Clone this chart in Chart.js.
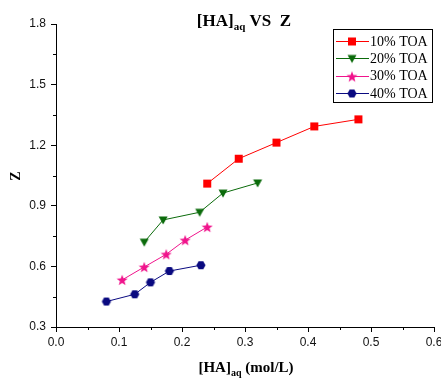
<!DOCTYPE html>
<html>
<head>
<meta charset="utf-8">
<script src="https://cdn.jsdelivr.net/npm/chart.js@4"></script>
<style>
  html, body { margin: 0; padding: 0; background: #fff; }
  #wrap { width: 441px; height: 378px; }
</style>
</head>
<body>
<div id="wrap"><canvas id="chart" width="441" height="378"></canvas></div>
<script>
// data
var seriesNames = ['10% TOA', '20% TOA', '30% TOA', '40% TOA'];
var haq10 = [0.24, 0.29, 0.35, 0.41, 0.48];
var z10 = [1.01, 1.133, 1.213, 1.293, 1.328];
var haq20 = [0.14, 0.17, 0.228, 0.265, 0.32];
var z20 = [0.72, 0.83, 0.868, 0.963, 1.013];
var haq30 = [0.105, 0.14, 0.175, 0.205, 0.24];
var z30 = [0.533, 0.597, 0.66, 0.73, 0.795];
var haq40 = [0.08, 0.125, 0.15, 0.18, 0.23];
var z40 = [0.426, 0.462, 0.521, 0.577, 0.606];
var xTicks = [0, 0.1, 0.2, 0.3, 0.4, 0.5, 0.6];
var yTicks = [0.3, 0.6, 0.9, 1.2, 1.5, 1.8];

var colors = ['#ff0000', '#0b6b0b', '#f0148c', '#0a0a80'];

function toPoints(xs, ys) {
    return xs.map(function(x, i) { return {x: x, y: ys[i]}; });
}

// marker images
function makeMarker(kind, color) {
    var c = document.createElement('canvas');
    c.width = 12; c.height = 12;
    var g = c.getContext('2d');
    g.fillStyle = color;
    g.beginPath();
    if (kind == 'square') {
        g.rect(2, 2, 8, 8);
    } else if (kind == 'tri') {
        g.moveTo(1.5, 2.5); g.lineTo(10.5, 2.5); g.lineTo(6, 10.5);
    } else if (kind == 'star') {
        for (var i = 0; i < 10; i++) {
            var r = (i % 2 == 0) ? 5.8 : 2.4;
            var a = -Math.PI / 2 + i * Math.PI / 5;
            var px = 6 + r * Math.cos(a), py = 6.5 + r * Math.sin(a);
            if (i == 0) g.moveTo(px, py); else g.lineTo(px, py);
        }
    } else {
        for (var j = 0; j < 6; j++) {
            var b = j * Math.PI / 3;
            var hx = 6 + 4.6 * Math.cos(b), hy = 6 + 4.6 * Math.sin(b);
            if (j == 0) g.moveTo(hx, hy); else g.lineTo(hx, hy);
        }
    }
    g.closePath();
    g.fill();
    return c;
}

var markers = [
    makeMarker('square', colors[0]),
    makeMarker('tri', colors[1]),
    makeMarker('star', colors[2]),
    makeMarker('hex', colors[3])
];

var allX = [haq10, haq20, haq30, haq40];
var allY = [z10, z20, z30, z40];
var datasets = seriesNames.map(function(name, i) {
    return {
        label: name,
        data: toPoints(allX[i], allY[i]),
        borderColor: colors[i],
        backgroundColor: colors[i],
        borderWidth: 1,
        pointStyle: markers[i],
        pointRadius: 5,
        showLine: true
    };
});

// title, axis titles, legend and minor ticks
var extras = {
    id: 'extras',
    afterDraw: function(chart) {
        var ctx = chart.ctx;
        var xs = chart.scales.x, ys = chart.scales.y;
        ctx.save();
        ctx.fillStyle = '#000';
        ctx.textBaseline = 'alphabetic';

        // title with subscript
        function subText(parts, x, y, big, small) {
            var w = 0;
            parts.forEach(function(p) {
                ctx.font = 'bold ' + (p.sub ? small : big) + 'px "Liberation Serif", "Times New Roman", serif';
                w += ctx.measureText(p.t).width;
            });
            var cx = x - w / 2;
            ctx.textAlign = 'left';
            parts.forEach(function(p) {
                ctx.font = 'bold ' + (p.sub ? small : big) + 'px "Liberation Serif", "Times New Roman", serif';
                ctx.fillText(p.t, cx, p.sub ? y + 4 : y);
                cx += ctx.measureText(p.t).width;
            });
        }
        subText([{t: '[HA]'}, {t: 'aq', sub: true}, {t: ' VS  Z'}], 244, 26, 17, 11);
        subText([{t: '[HA]'}, {t: 'aq', sub: true}, {t: ' (mol/L)'}], 246, 372, 15, 10);

        // y axis title
        ctx.save();
        ctx.translate(20, 176);
        ctx.rotate(-Math.PI / 2);
        ctx.textAlign = 'center';
        ctx.font = 'bold 14px "Liberation Serif", "Times New Roman", serif';
        ctx.fillText('Z', 0, 0);
        ctx.restore();

        // minor ticks
        ctx.strokeStyle = '#000';
        ctx.lineWidth = 1;
        ctx.beginPath();
        for (var i = 0; i < xTicks.length - 1; i++) {
            var mx = Math.round(xs.getPixelForValue((xTicks[i] + xTicks[i + 1]) / 2)) + 0.5;
            ctx.moveTo(mx, xs.top);
            ctx.lineTo(mx, xs.top + 3);
        }
        for (var k = 0; k < yTicks.length - 1; k++) {
            var my = Math.round(ys.getPixelForValue((yTicks[k] + yTicks[k + 1]) / 2)) + 0.5;
            ctx.moveTo(ys.right, my);
            ctx.lineTo(ys.right - 3, my);
        }
        ctx.stroke();

        // legend box
        var lx = 333, ly = 29, lw = 99, lh = 73;
        ctx.strokeStyle = '#000';
        ctx.strokeRect(lx + 0.5, ly + 0.5, lw, lh);
        ctx.font = '14px "Liberation Serif", "Times New Roman", serif';
        ctx.textAlign = 'left';
        ctx.textBaseline = 'middle';
        chart.data.datasets.forEach(function(ds, n) {
            var ry = 41 + n * 17.4;
            ctx.strokeStyle = ds.borderColor;
            ctx.beginPath();
            ctx.moveTo(336, Math.round(ry) + 0.5);
            ctx.lineTo(369, Math.round(ry) + 0.5);
            ctx.stroke();
            ctx.drawImage(ds.pointStyle, 352 - 6, Math.round(ry) - 5.5);
            ctx.fillStyle = '#000';
            ctx.fillText(ds.label, 370, ry + 1);
        });
        ctx.restore();
    }
};

new Chart(document.getElementById('chart'), {
    type: 'scatter',
    data: { datasets: datasets },
    options: {
        responsive: false,
        animation: false,
        layout: { padding: { top: 24, right: 7, left: 0, bottom: 0 } },
        plugins: {
            legend: { display: false },
            tooltip: { enabled: false }
        },
        scales: {
            x: {
                type: 'linear',
                min: 0,
                max: 0.6,
                afterBuildTicks: function(s) {
                    s.ticks = xTicks.map(function(v) { return {value: v}; });
                },
                afterFit: function(s) {
                    s.height = 51;
                    s.paddingLeft = 0;
                    s.paddingRight = 0;
                },
                ticks: {
                    color: '#111',
                    padding: 3,
                    maxRotation: 0,
                    font: { family: '"Liberation Sans", Arial, sans-serif', size: 12 },
                    callback: function(v) { return Number(v).toFixed(1); }
                },
                grid: { drawOnChartArea: false, color: '#000', tickLength: 5 },
                border: { color: '#000', width: 1 }
            },
            y: {
                type: 'linear',
                min: 0.3,
                max: 1.8,
                afterBuildTicks: function(s) {
                    s.ticks = yTicks.map(function(v) { return {value: v}; });
                },
                afterFit: function(s) {
                    s.width = 56;
                    s.paddingTop = 0;
                    s.paddingBottom = 0;
                },
                ticks: {
                    color: '#111',
                    padding: 5,
                    font: { family: '"Liberation Sans", Arial, sans-serif', size: 12 },
                    callback: function(v) { return Number(v).toFixed(1); }
                },
                grid: { drawOnChartArea: false, color: '#000', tickLength: 5 },
                border: { color: '#000', width: 1 }
            }
        }
    },
    plugins: [extras]
});
</script>
</body>
</html>
